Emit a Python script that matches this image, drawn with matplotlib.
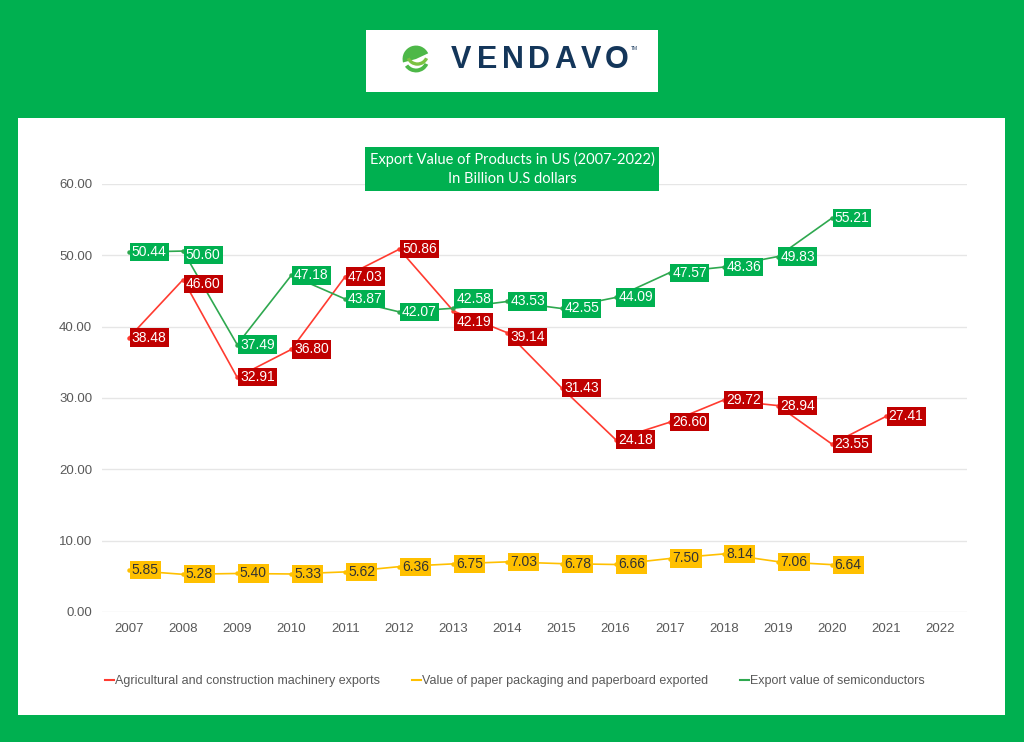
import numpy as np
import matplotlib.pyplot as plt
from matplotlib.patches import Rectangle, Wedge
from matplotlib.lines import Line2D

# =========================================================
# DATA
# =========================================================
years = [str(y) for y in range(2007, 2023)]

machinery = [38.48, 46.60, 32.91, 36.80, 47.03, 50.86, 42.19, 39.14,
             31.43, 24.18, 26.60, 29.72, 28.94, 23.55, 27.41, None]
paper = [5.85, 5.28, 5.40, 5.33, 5.62, 6.36, 6.75, 7.03,
         6.78, 6.66, 7.50, 8.14, 7.06, 6.64, None, None]
semis = [50.44, 50.60, 37.49, 47.18, 43.87, 42.07, 42.58, 43.53,
         42.55, 44.09, 47.57, 48.36, 49.83, 55.21, None, None]

series_names = ["Agricultural and construction machinery exports",
                "Value of paper packaging and paperboard exported",
                "Export value of semiconductors"]

yticks = [0, 10, 20, 30, 40, 50, 60]

# labels nudged (points) where they collide, like the original
label_nudge = {(0, 6): -8, (0, 7): -3, (0, 1): -3, (2, 6): 7, (2, 1): -3}

# =========================================================
# STYLE
# =========================================================
GREEN_BG = "#00b050"
NAVY = "#14365a"
line_colors = ["#ff3b30", "#ffc000", "#2ea84f"]
box_colors = ["#c00000", "#ffc000", "#00b050"]
text_colors = ["white", "#333333", "white"]

plt.rcParams['font.family'] = ['Liberation Sans', 'DejaVu Sans']

W, H = 1024, 742
fig = plt.figure(figsize=(W / 100, H / 100), dpi=100)
fig.patch.set_facecolor(GREEN_BG)


def fx(px):
    return px / W


def fy(py):
    return 1 - py / H


# white panel
fig.patches.append(Rectangle((fx(18), fy(715)), fx(1005) - fx(18), fy(118) - fy(715),
                             transform=fig.transFigure, facecolor="white",
                             edgecolor="none", zorder=-10))

# logo box
fig.patches.append(Rectangle((fx(366), fy(92)), fx(658) - fx(366), fy(30) - fy(92),
                             transform=fig.transFigure, facecolor="white",
                             edgecolor="none", zorder=-10))

# logo icon (rough swoosh)
lax = fig.add_axes([fx(402), fy(73), fx(430) - fx(402), fy(45) - fy(73)])
lax.set_xlim(0, 1)
lax.set_ylim(0, 1)
lax.set_aspect("equal")
lax.axis("off")
lax.add_patch(Wedge((0.5, 0.5), 0.48, 25, 195, facecolor="#4db848", edgecolor="none"))
lax.add_patch(Wedge((0.5, 0.5), 0.48, 215, 335, width=0.14, facecolor="#4db848", edgecolor="none"))
lax.add_patch(Wedge((0.55, 0.68), 0.42, 205, 335, width=0.12, facecolor="#7cc242", edgecolor="none"))

for k, ch in enumerate("VENDAVO"):
    fig.text(fx(461 + 26 * k), fy(60), ch, fontsize=22, fontweight="bold",
             color=NAVY, ha="center", va="center")
fig.text(fx(634), fy(49), "TM", fontsize=3.5, color=NAVY, ha="center", va="center")

# =========================================================
# CHART
# =========================================================
ax = fig.add_axes([fx(102), fy(612), fx(967) - fx(102), fy(184) - fy(612)])
ax.set_facecolor("none")

x = np.arange(len(years))
all_series = [machinery, paper, semis]

for i, vals in enumerate(all_series):
    v = np.array([np.nan if a is None else a for a in vals], dtype=float)
    ax.plot(x, v, color=line_colors[i], lw=1.2, marker="o", ms=2.2, zorder=3)
    for xi, yi in zip(x, vals):
        if yi is None:
            continue
        dy = label_nudge.get((i, xi), 0)
        ax.annotate(f"{yi:.2f}", (xi, yi), xytext=(2, dy), textcoords="offset points",
                    ha="left", va="center", fontsize=10, color=text_colors[i],
                    bbox=dict(boxstyle="square,pad=0.15", fc=box_colors[i], ec="none"),
                    zorder=4)

ax.set_xlim(-0.5, len(years) - 0.5)
ax.set_ylim(0, 60)
ax.set_xticks(x)
ax.set_xticklabels(years)
ax.set_yticks(yticks)
ax.set_yticklabels([f"{t:.2f}" for t in yticks])
ax.tick_params(length=0, labelsize=9.5, colors="#595959")
ax.tick_params(axis="x", pad=8)
ax.tick_params(axis="y", pad=7)
ax.grid(axis="y", color="#e6e6e6", lw=1)
ax.set_axisbelow(True)
for s in ax.spines.values():
    s.set_visible(False)

# title box
fig.text(fx(512), fy(169), "Export Value of Products in US (2007-2022)\nIn Billion U.S dollars",
         ha="center", va="center", fontsize=10.5, color="white", linespacing=1.5,
         family=["Lato", "DejaVu Sans"],
         bbox=dict(boxstyle="square,pad=0.3", fc=GREEN_BG, ec="none"), zorder=5)

# legend
handles = [Line2D([], [], color=c, lw=1.5) for c in line_colors]
fig.legend(handles, series_names, loc="center", bbox_to_anchor=(fx(515), fy(681)),
           ncol=3, frameon=False, fontsize=9, handlelength=0.7, handletextpad=0.1,
           columnspacing=2.55, labelcolor="#595959")

fig.savefig("out.png", dpi=100, facecolor=fig.get_facecolor())
